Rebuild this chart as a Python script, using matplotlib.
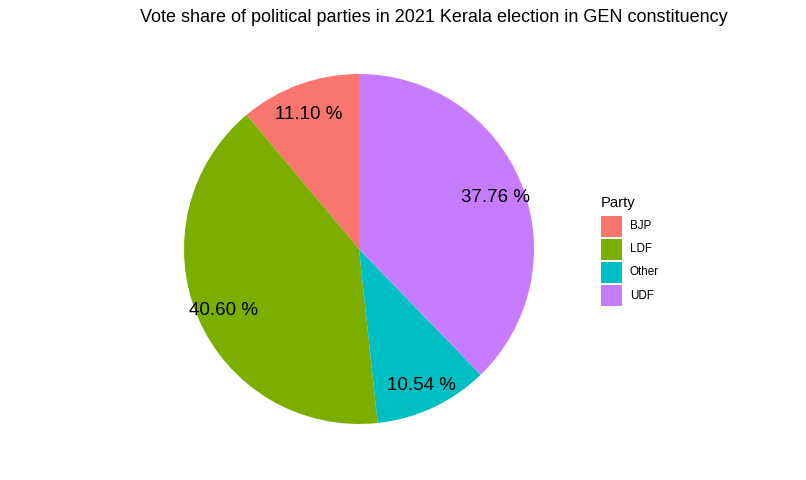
import matplotlib
matplotlib.use("Agg")
import matplotlib.pyplot as plt
from matplotlib.patches import Rectangle

plt.rcParams["font.family"] = ["Liberation Sans", "DejaVu Sans"]

# data
parties = ["BJP", "LDF", "Other", "UDF"]
shares = [11.10, 40.60, 10.54, 37.76]
colors = ["#F8766D", "#7CAE00", "#00BFC4", "#C77CFF"]

W, H = 806, 480
fig = plt.figure(figsize=(W / 100, H / 100), dpi=100)

# pie centre ~ (359, 249) px, radius ~175 px
cx, cy, r = 359, 249, 175
ax = fig.add_axes([(cx - r) / W, (H - cy - r) / H, 2 * r / W, 2 * r / H])
wedges, _, autotexts = ax.pie(
    shares, colors=colors, startangle=90, counterclock=True,
    autopct=lambda p: f"{p:.2f} %", pctdistance=0.84,
    wedgeprops=dict(linewidth=0), textprops=dict(fontsize=13.5, color="black"),
)
# nudge labels down a few px like ggplot's placement
for t in autotexts:
    x, y = t.get_position()
    t.set_position((x, y - 0.02))
ax.set_xlim(-1, 1)
ax.set_ylim(-1, 1)
ax.set_aspect("equal")
ax.axis("off")

fig.text(434 / W, 1 - 17 / H,
         "Vote share of political parties in 2021 Kerala election in GEN constituency",
         ha="center", va="center", fontsize=13.0)

# legend drawn by hand, ggplot style
lx, top, key, step = 600.5, 215.5, 21, 23.2
fig.text(lx / W, 1 - 203 / H, "Party", ha="left", va="center", fontsize=10.6)
for i, (name, col) in enumerate(zip(parties, colors)):
    y0 = top + i * step
    fig.patches.append(Rectangle((lx / W, 1 - (y0 + key) / H), key / W, key / H,
                                 transform=fig.transFigure, facecolor=col,
                                 edgecolor="none"))
    fig.text(630 / W, 1 - (y0 + key / 2) / H, name, ha="left", va="center",
             fontsize=8.4)

fig.savefig("out.png", dpi=100)
